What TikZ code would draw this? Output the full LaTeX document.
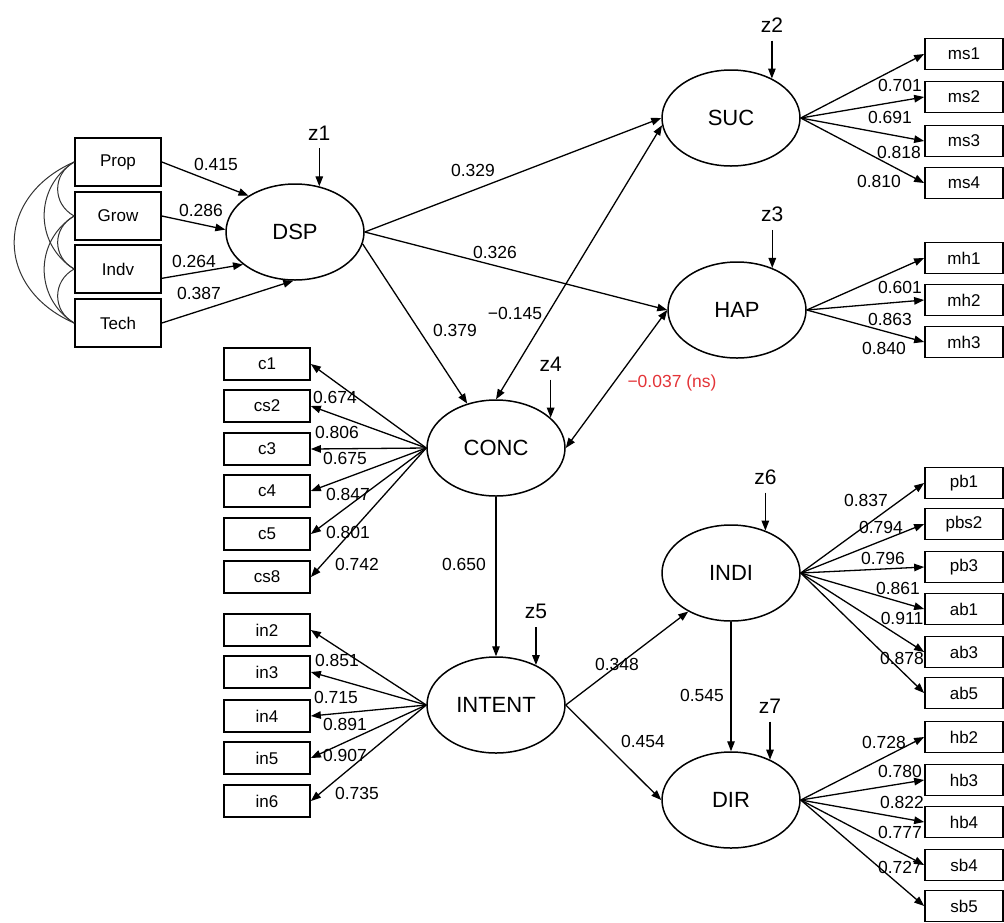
\documentclass[tikz,border=0pt]{standalone}
\usepackage{fontspec}
\setmainfont{Liberation Sans}
\usetikzlibrary{arrows.meta,shapes.geometric,positioning}
\definecolor{nsred}{RGB}{228,52,56}
\begin{document}
\begin{tikzpicture}[x=1pt,y=-1pt,
  lat/.style={ellipse,draw,line width=1.5pt,minimum width=138pt,minimum height=96pt,inner sep=0pt,font=\fontsize{22}{24}\selectfont},
  obs/.style={draw,line width=1.7pt,minimum width=86pt,minimum height=32pt,inner sep=0pt,font=\fontsize{17}{19}\selectfont},
  obsr/.style={obs,minimum width=78pt,minimum height=31pt},
  obsl/.style={obs,minimum height=48pt},
  lab/.style={inner sep=0pt,font=\fontsize{17.5}{19}\selectfont},
  zlab/.style={inner sep=1pt,font=\fontsize{21}{23}\selectfont},
  arr/.style={-{Triangle[length=10pt,width=7.5pt]},line width=1.3pt},
  darr/.style={{Triangle[length=10pt,width=7.5pt]}-{Triangle[length=10pt,width=7.5pt]},line width=1.3pt},
  zarr/.style={arr,shorten <=7pt},
  cov/.style={line width=1pt,draw=black!80}]
\useasboundingbox[fill=white] (0,0) rectangle (1004,922);

% exogenous boxes
\node[obsl] (Prop) at (118,162) {Prop};
\node[obsl] (Grow) at (118,216) {Grow};
\node[obsl] (Indv) at (118,269) {Indv};
\node[obsl] (Tech) at (118,323) {Tech};

% latent variables
\node[lat] (DSP) at (295,232) {DSP};
\node[lat] (SUC) at (731,118) {SUC};
\node[lat] (HAP) at (737,310) {HAP};
\node[lat] (CONC) at (496,448) {CONC};
\node[lat] (INTENT) at (496,705) {INTENT};
\node[lat] (INDI) at (731,573) {INDI};
\node[lat] (DIR) at (731,800) {DIR};

% disturbances
\node[zlab, above=45pt of DSP.62] (z1) {z1};
\node[zlab, above=45pt of SUC.44] (z2) {z2};
\node[zlab, above=45pt of HAP.50] (z3) {z3};
\node[zlab, above=45pt of CONC.29] (z4) {z4};
\node[zlab, above=45pt of INTENT.45] (z5) {z5};
\node[zlab, above=45pt of INDI.51] (z6) {z6};
\node[zlab, above=45pt of DIR.46] (z7) {z7};
\draw[zarr] (z1) -- (DSP.62);
\draw[zarr] (z2) -- (SUC.44);
\draw[zarr] (z3) -- (HAP.50);
\draw[zarr] (z4) -- (CONC.29);
\draw[zarr] (z5) -- (INTENT.45);
\draw[zarr] (z6) -- (INDI.51);
\draw[zarr] (z7) -- (DIR.46);

% indicator boxes
\node[obsr] (ms1) at (964,54) {ms1};
\node[obsr] (ms2) at (964,97) {ms2};
\node[obsr] (ms3) at (964,141) {ms3};
\node[obsr] (ms4) at (964,183) {ms4};
\node[obsr] (mh1) at (964,258) {mh1};
\node[obsr] (mh2) at (964,300) {mh2};
\node[obsr] (mh3) at (964,342) {mh3};
\node[obs] (c1) at (267,364) {c1};
\node[obs] (cs2) at (267,406) {cs2};
\node[obs] (c3) at (267,449) {c3};
\node[obs] (c4) at (267,491) {c4};
\node[obs] (c5) at (267,534) {c5};
\node[obs] (cs8) at (267,577) {cs8};
\node[obs] (in2) at (267,630) {in2};
\node[obs] (in3) at (267,672) {in3};
\node[obs] (in4) at (267,716) {in4};
\node[obs] (in5) at (267,758) {in5};
\node[obs] (in6) at (267,801) {in6};
\node[obsr] (pb1) at (964,483) {pb1};
\node[obsr] (pbs2) at (964,524) {pbs2};
\node[obsr] (pb3) at (964,567) {pb3};
\node[obsr] (ab1) at (964,609) {ab1};
\node[obsr] (ab3) at (964,652) {ab3};
\node[obsr] (ab5) at (964,693) {ab5};
\node[obsr] (hb2) at (964,737) {hb2};
\node[obsr] (hb3) at (964,780) {hb3};
\node[obsr] (hb4) at (964,822) {hb4};
\node[obsr] (sb4) at (964,865) {sb4};
\node[obsr] (sb5) at (964,906) {sb5};

% covariances among exogenous
\draw[cov] (Prop.west) .. controls +(-80,35) and +(-80,-35) .. (Tech.west);
\draw[cov] (Prop.west) .. controls +(-40,25) and +(-40,-25) .. (Indv.west);
\draw[cov] (Grow.west) .. controls +(-40,25) and +(-40,-25) .. (Tech.west);
\draw[cov] (Prop.west) .. controls +(-22,12) and +(-22,-12) .. (Grow.west);
\draw[cov] (Grow.west) .. controls +(-22,12) and +(-22,-12) .. (Indv.west);
\draw[cov] (Indv.west) .. controls +(-22,12) and +(-22,-12) .. (Tech.west);

% formative paths into DSP
\draw[arr] (Prop.east) -- (DSP.142);
\draw[arr] (Grow.east) -- (DSP.178);
\draw[arr] (Indv.-12) -- (DSP.212);
\draw[arr] (Tech.east) -- (DSP.268);

% structural paths
\draw[arr] (DSP.east) -- (SUC.west);
\draw[arr] (DSP.east) -- (HAP.west);
\draw[arr] (DSP.350) -- (CONC.123);
\draw[darr] (SUC.186) -- (CONC.north);
\draw[darr] (HAP.west) -- (CONC.east);
\draw[arr] (CONC.south) -- (INTENT.north);
\draw[arr] (INTENT.east) -- (INDI.222);
\draw[arr] (INTENT.east) -- (DIR.west);
\draw[arr] (INDI.south) -- (DIR.north);

% loadings
\foreach \b in {ms1,ms2,ms3,ms4} \draw[arr] (SUC.east) -- (\b.west);
\foreach \b in {mh1,mh2,mh3} \draw[arr] (HAP.east) -- (\b.west);
\foreach \b in {c1,cs2,c3,c4,c5,cs8} \draw[arr] (CONC.west) -- (\b.east);
\foreach \b in {in2,in3,in4,in5,in6} \draw[arr] (INTENT.west) -- (\b.east);
\foreach \b in {pb1,pbs2,pb3,ab1,ab3,ab5} \draw[arr] (INDI.east) -- (\b.west);
\foreach \b in {hb2,hb3,hb4,sb4,sb5} \draw[arr] (DIR.east) -- (\b.west);

% coefficient labels
\node[lab] (l1) at (216,164) {0.415};
\node[lab] (l2) at (201,210) {0.286};
\node[lab] (l3) at (194,261) {0.264};
\node[lab] (l4) at (199,293) {0.387};
\node[lab] (l5) at (473,170) {0.329};
\node[lab] (l6) at (495,252) {0.326};
\node[lab] (l7) at (455,330) {0.379};
\node[lab] (l8) at (515,313) {−0.145};
\node[lab,text=nsred] (l9) at (672,383) {−0.037 (ns)};
\node[lab] (l10) at (464,564) {0.650};
\node[lab] (l11) at (617,664) {0.348};
\node[lab] (l12) at (643,741) {0.454};
\node[lab] (l13) at (702,695) {0.545};
\node[lab] (s1) at (900,85) {0.701};
\node[lab] (s2) at (890,117) {0.691};
\node[lab] (s3) at (899,152) {0.818};
\node[lab] (s4) at (879,181) {0.810};
\node[lab] (h1) at (900,287) {0.601};
\node[lab] (h2) at (890,319) {0.863};
\node[lab] (h3) at (884,348) {0.840};
\node[lab] (k1) at (335,397) {0.674};
\node[lab] (k2) at (337,432) {0.806};
\node[lab] (k3) at (345,458) {0.675};
\node[lab] (k4) at (348,494) {0.847};
\node[lab] (k5) at (348,532) {0.801};
\node[lab] (k6) at (357,564) {0.742};
\node[lab] (t1) at (337,660) {0.851};
\node[lab] (t2) at (336,697) {0.715};
\node[lab] (t3) at (345,724) {0.891};
\node[lab] (t4) at (345,755) {0.907};
\node[lab] (t5) at (357,793) {0.735};
\node[lab] (i1) at (866,500) {0.837};
\node[lab] (i2) at (881,527) {0.794};
\node[lab] (i3) at (883,558) {0.796};
\node[lab] (i4) at (898,588) {0.861};
\node[lab] (i5) at (902,618) {0.911};
\node[lab] (i6) at (902,658) {0.878};
\node[lab] (d1) at (884,742) {0.728};
\node[lab] (d2) at (900,771) {0.780};
\node[lab] (d3) at (902,802) {0.822};
\node[lab] (d4) at (900,832) {0.777};
\node[lab] (d5) at (900,867) {0.727};
\end{tikzpicture}
\end{document}
